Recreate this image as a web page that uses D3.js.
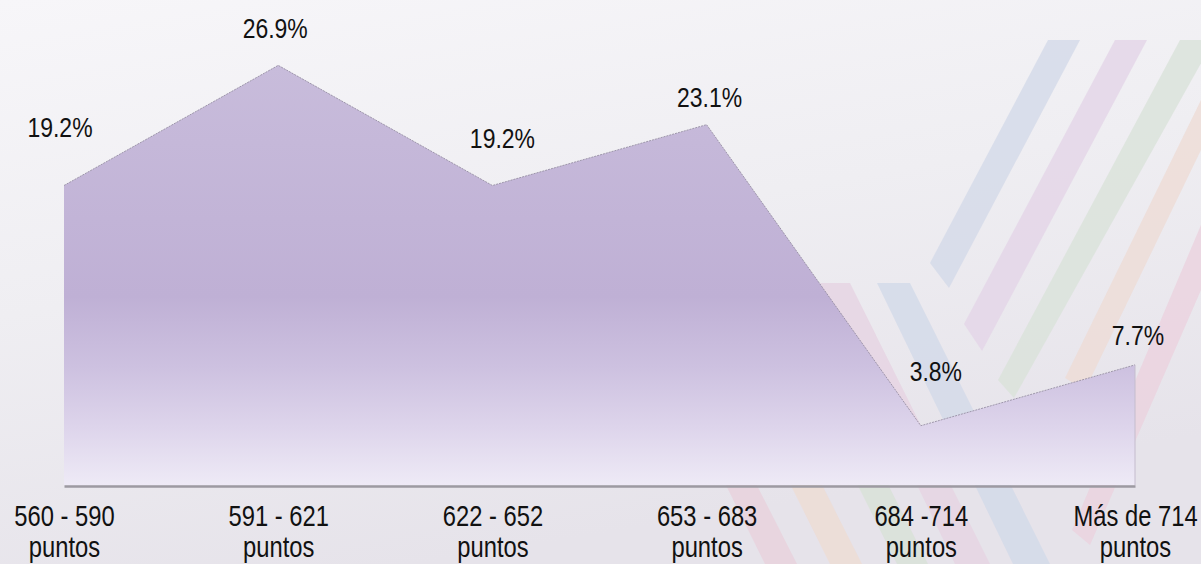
<!DOCTYPE html>
<html>
<head>
<meta charset="utf-8">
<script src="https://cdn.jsdelivr.net/npm/d3@7"></script>
<style>
  html, body { margin: 0; padding: 0; background: #efeef2; }
  svg { display: block; }
  .lbl { font-family: "Liberation Sans", Arial, sans-serif; fill: #111; }
</style>
</head>
<body>
<svg class="area-chart"></svg>
<script>
// data
var categories = ["560 - 590", "591 - 621", "622 - 652", "653 - 683", "684 -714", "Más de 714"];
var unitLabel = "puntos";
var values = [19.2, 26.9, 19.2, 23.1, 3.8, 7.7];
var valueLabels = ["19.2%", "26.9%", "19.2%", "23.1%", "3.8%", "7.7%"];

// manual placement of the data labels (dx, dy from the point)
var LABEL_DX = [-4, -3, 10, 3, 15, 3];
var LABEL_DY = [-48, -27, -37, -18, -45, -20];

CHART_WIDTH = 1201;
CHART_HEIGHT = 564;
NARROW = 0.82; // the original uses a narrow face

// background decoration: pastel diagonal stripes
var STRIPES = [
  { c: "#d3dae9", p: [[1048, 40], [1080, 40], [949, 288], [930, 263]] },
  { c: "#e4d4e7", p: [[1115, 40], [1147, 40], [982, 351], [964, 324]] },
  { c: "#d9e2da", p: [[1180, 40], [1214, 40], [1014, 398], [998, 380]] },
  { c: "#eddcd6", p: [[1201, 100], [1201, 150], [1085, 390], [1065, 378]] },
  { c: "#ebd2de", p: [[1201, 225], [1201, 290], [1090, 545], [1072, 530]] },
  { c: "#e6d3e2", p: [[820, 283], [850, 283], [990, 564], [955, 564]] },
  { c: "#d2d9e8", p: [[877, 283], [910, 283], [1050, 564], [1013, 564]] },
  { c: "#e9d1dc", p: [[626, 283], [654, 283], [797, 564], [765, 564]] },
  { c: "#eedcd3", p: [[690, 283], [720, 283], [862, 564], [830, 564]] },
  { c: "#d8e1d7", p: [[757, 283], [787, 283], [928, 564], [897, 564]] }
];

buildChart();

function buildChart() {
  var svg = d3.select(".area-chart")
    .attr("width", CHART_WIDTH)
    .attr("height", CHART_HEIGHT);

  var defs = svg.append("defs");
  var bg = defs.append("linearGradient").attr("id", "bg")
    .attr("x1", 0).attr("y1", 0).attr("x2", 0.35).attr("y2", 1);
  bg.append("stop").attr("offset", 0).attr("stop-color", "#f7f6f9");
  bg.append("stop").attr("offset", 0.5).attr("stop-color", "#efeef2");
  bg.append("stop").attr("offset", 1).attr("stop-color", "#e6e3ea");

  var x = d3.scalePoint().domain(categories).range([64, 1135]);
  var y = d3.scaleLinear().domain([0, 30]).range([485, 17]);

  var fill = defs.append("linearGradient").attr("id", "fill")
    .attr("gradientUnits", "userSpaceOnUse")
    .attr("x1", 0).attr("x2", 0)
    .attr("y1", y(d3.max(values))).attr("y2", y(0));
  [[0, "#c8bcdb"], [0.55, "#bfb0d5"], [0.72, "#cdc1e0"], [0.86, "#ddd4eb"], [1, "#eeeaf6"]]
    .forEach(function(s) {
      fill.append("stop").attr("offset", s[0]).attr("stop-color", s[1]);
    });

  svg.append("rect")
    .attr("width", CHART_WIDTH).attr("height", CHART_HEIGHT)
    .attr("fill", "url(#bg)");

  svg.append("g").attr("class", "stripes")
    .selectAll("polygon")
    .data(STRIPES)
    .enter().append("polygon")
    .attr("points", function(d) { return d.p.join(" "); })
    .attr("fill", function(d) { return d.c; })
    .attr("opacity", 0.8);

  var area = d3.area()
    .x(function(d, i) { return x(categories[i]); })
    .y0(y(0))
    .y1(function(d) { return y(d); });

  var line = d3.line()
    .x(function(d, i) { return x(categories[i]); })
    .y(function(d) { return y(d); });

  svg.append("path")
    .attr("d", area(values))
    .attr("fill", "url(#fill)");

  svg.append("path")
    .attr("d", line(values))
    .attr("fill", "none")
    .attr("stroke", "#8e879a")
    .attr("stroke-width", 0.8)
    .attr("stroke-dasharray", "2,1");

  // right edge of the area
  var last = values.length - 1;
  svg.append("line")
    .attr("x1", x(categories[last])).attr("x2", x(categories[last]))
    .attr("y1", y(values[last])).attr("y2", y(0))
    .attr("stroke", "#c4bccd")
    .attr("stroke-width", 1);

  var axis = svg.append("g")
    .attr("class", "axis axis--x")
    .attr("transform", "translate(0," + (y(0) + 1) + ")")
    .call(d3.axisBottom(x).tickSize(0).tickSizeOuter(0));

  axis.select(".domain")
    .attr("stroke", "#9d9aa2")
    .attr("stroke-width", 2.5);

  axis.selectAll(".tick text").remove();
  var tickText = axis.selectAll(".tick").append("text")
    .attr("class", "lbl")
    .attr("text-anchor", "middle")
    .attr("transform", "scale(" + NARROW + ",1)")
    .style("font-size", "29px");
  tickText.append("tspan")
    .attr("x", 0).attr("y", 40)
    .text(function(d) { return d; });
  tickText.append("tspan")
    .attr("x", 0).attr("y", 71)
    .text(unitLabel);

  svg.append("g").attr("class", "values")
    .selectAll("text")
    .data(values)
    .enter().append("text")
    .attr("class", "lbl")
    .attr("text-anchor", "middle")
    .style("font-size", "28px")
    .attr("transform", function(d, i) {
      return "translate(" + (x(categories[i]) + LABEL_DX[i]) + "," + (y(d) + LABEL_DY[i]) + ") scale(" + NARROW + ",1)";
    })
    .text(function(d, i) { return valueLabels[i]; });
}
</script>
</body>
</html>
